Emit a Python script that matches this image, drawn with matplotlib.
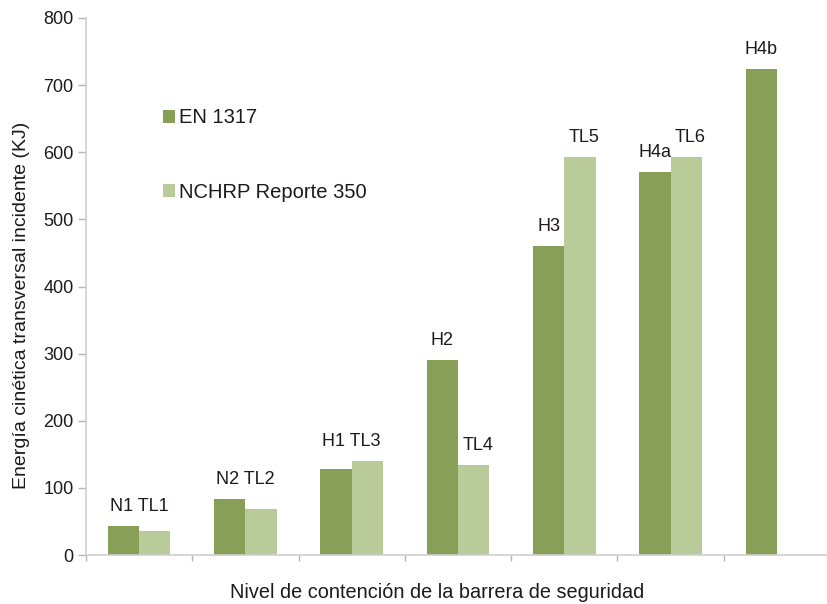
import numpy as np
import matplotlib
matplotlib.use("Agg")
import matplotlib.pyplot as plt

plt.rcParams["font.family"] = ["Liberation Sans", "DejaVu Sans"]

# Energía por nivel de contención (kJ)
en_names = ["N1", "N2", "H1", "H2", "H3", "H4a", "H4b"]
en_values = [43, 83, 128, 290, 460, 570, 724]
tl_names = ["TL1", "TL2", "TL3", "TL4", "TL5", "TL6", None]
tl_values = [36, 69, 140, 134, 593, 593, np.nan]
# grupos donde el nombre se escribe junto ("N1 TL1")
merged = [True, True, True, False, False, False, False]

dark = "#889f57"
light = "#b8cb98"
text_col = "#1e1a1b"
axis_col = "#cfcfcf"

fig = plt.figure(figsize=(8.27, 6.04), dpi=100)
W, H = 827, 604
x0, x1 = 86, 830
y0, y1 = 555, 18
ax = fig.add_axes([x0 / W, 1 - y0 / H, (x1 - x0) / W, (y0 - y1) / H])

n = len(en_values)
centers = np.arange(n) + 0.5
bw = 0.295
b_en = ax.bar(centers - bw / 2, en_values, bw, color=dark, label="EN 1317")
b_tl = ax.bar(centers + bw / 2, tl_values, bw, color=light, label="NCHRP Reporte 350")

lab_kw = dict(textcoords="offset points", ha="center", va="bottom",
              fontsize=13, color=text_col)
for i in range(n):
    if merged[i]:
        top = np.nanmax([en_values[i], tl_values[i]])
        ax.annotate(f"{en_names[i]} {tl_names[i]}", (centers[i], top),
                    xytext=(0, 8), **lab_kw)
    else:
        ax.annotate(en_names[i], (centers[i] - bw / 2, en_values[i]),
                    xytext=(0, 8), **lab_kw)
        if tl_names[i]:
            ax.annotate(tl_names[i], (centers[i] + bw / 2 + 0.04, tl_values[i]),
                        xytext=(0, 8), **lab_kw)

ax.set_xlim(0, n)
ax.set_ylim(0, 800)
ax.set_xticks(np.arange(n + 1))
ax.set_xticklabels([])
ax.set_yticks(np.arange(0, 801, 100))
ax.tick_params(axis="y", length=6, width=1, color="#b5b5b5", pad=3,
               labelsize=13, labelcolor=text_col)
ax.tick_params(axis="x", length=4, width=1, color="#b5b5b5")
for s in ["top", "right"]:
    ax.spines[s].set_visible(False)
for s in ["left", "bottom"]:
    ax.spines[s].set_color(axis_col)
    ax.spines[s].set_linewidth(1.2)

fig.text(22 / W, 1 - 305 / H, "Energía cinética transversal incidente (KJ)",
         rotation=90, ha="center", va="center", fontsize=14, color=text_col)
fig.text(437 / W, 1 - 592 / H, "Nivel de contención de la barrera de seguridad",
         ha="center", va="center", fontsize=14.3, color=text_col)

ax.legend(loc="center left", bbox_to_anchor=(163 / W, 1 - 155 / H),
          bbox_transform=fig.transFigure, frameon=False, fontsize=14.5,
          handlelength=0.6, handleheight=0.6, handletextpad=0.2,
          labelspacing=2.75, borderpad=0, borderaxespad=0,
          labelcolor=text_col)

fig.savefig("out.png", dpi=100)
